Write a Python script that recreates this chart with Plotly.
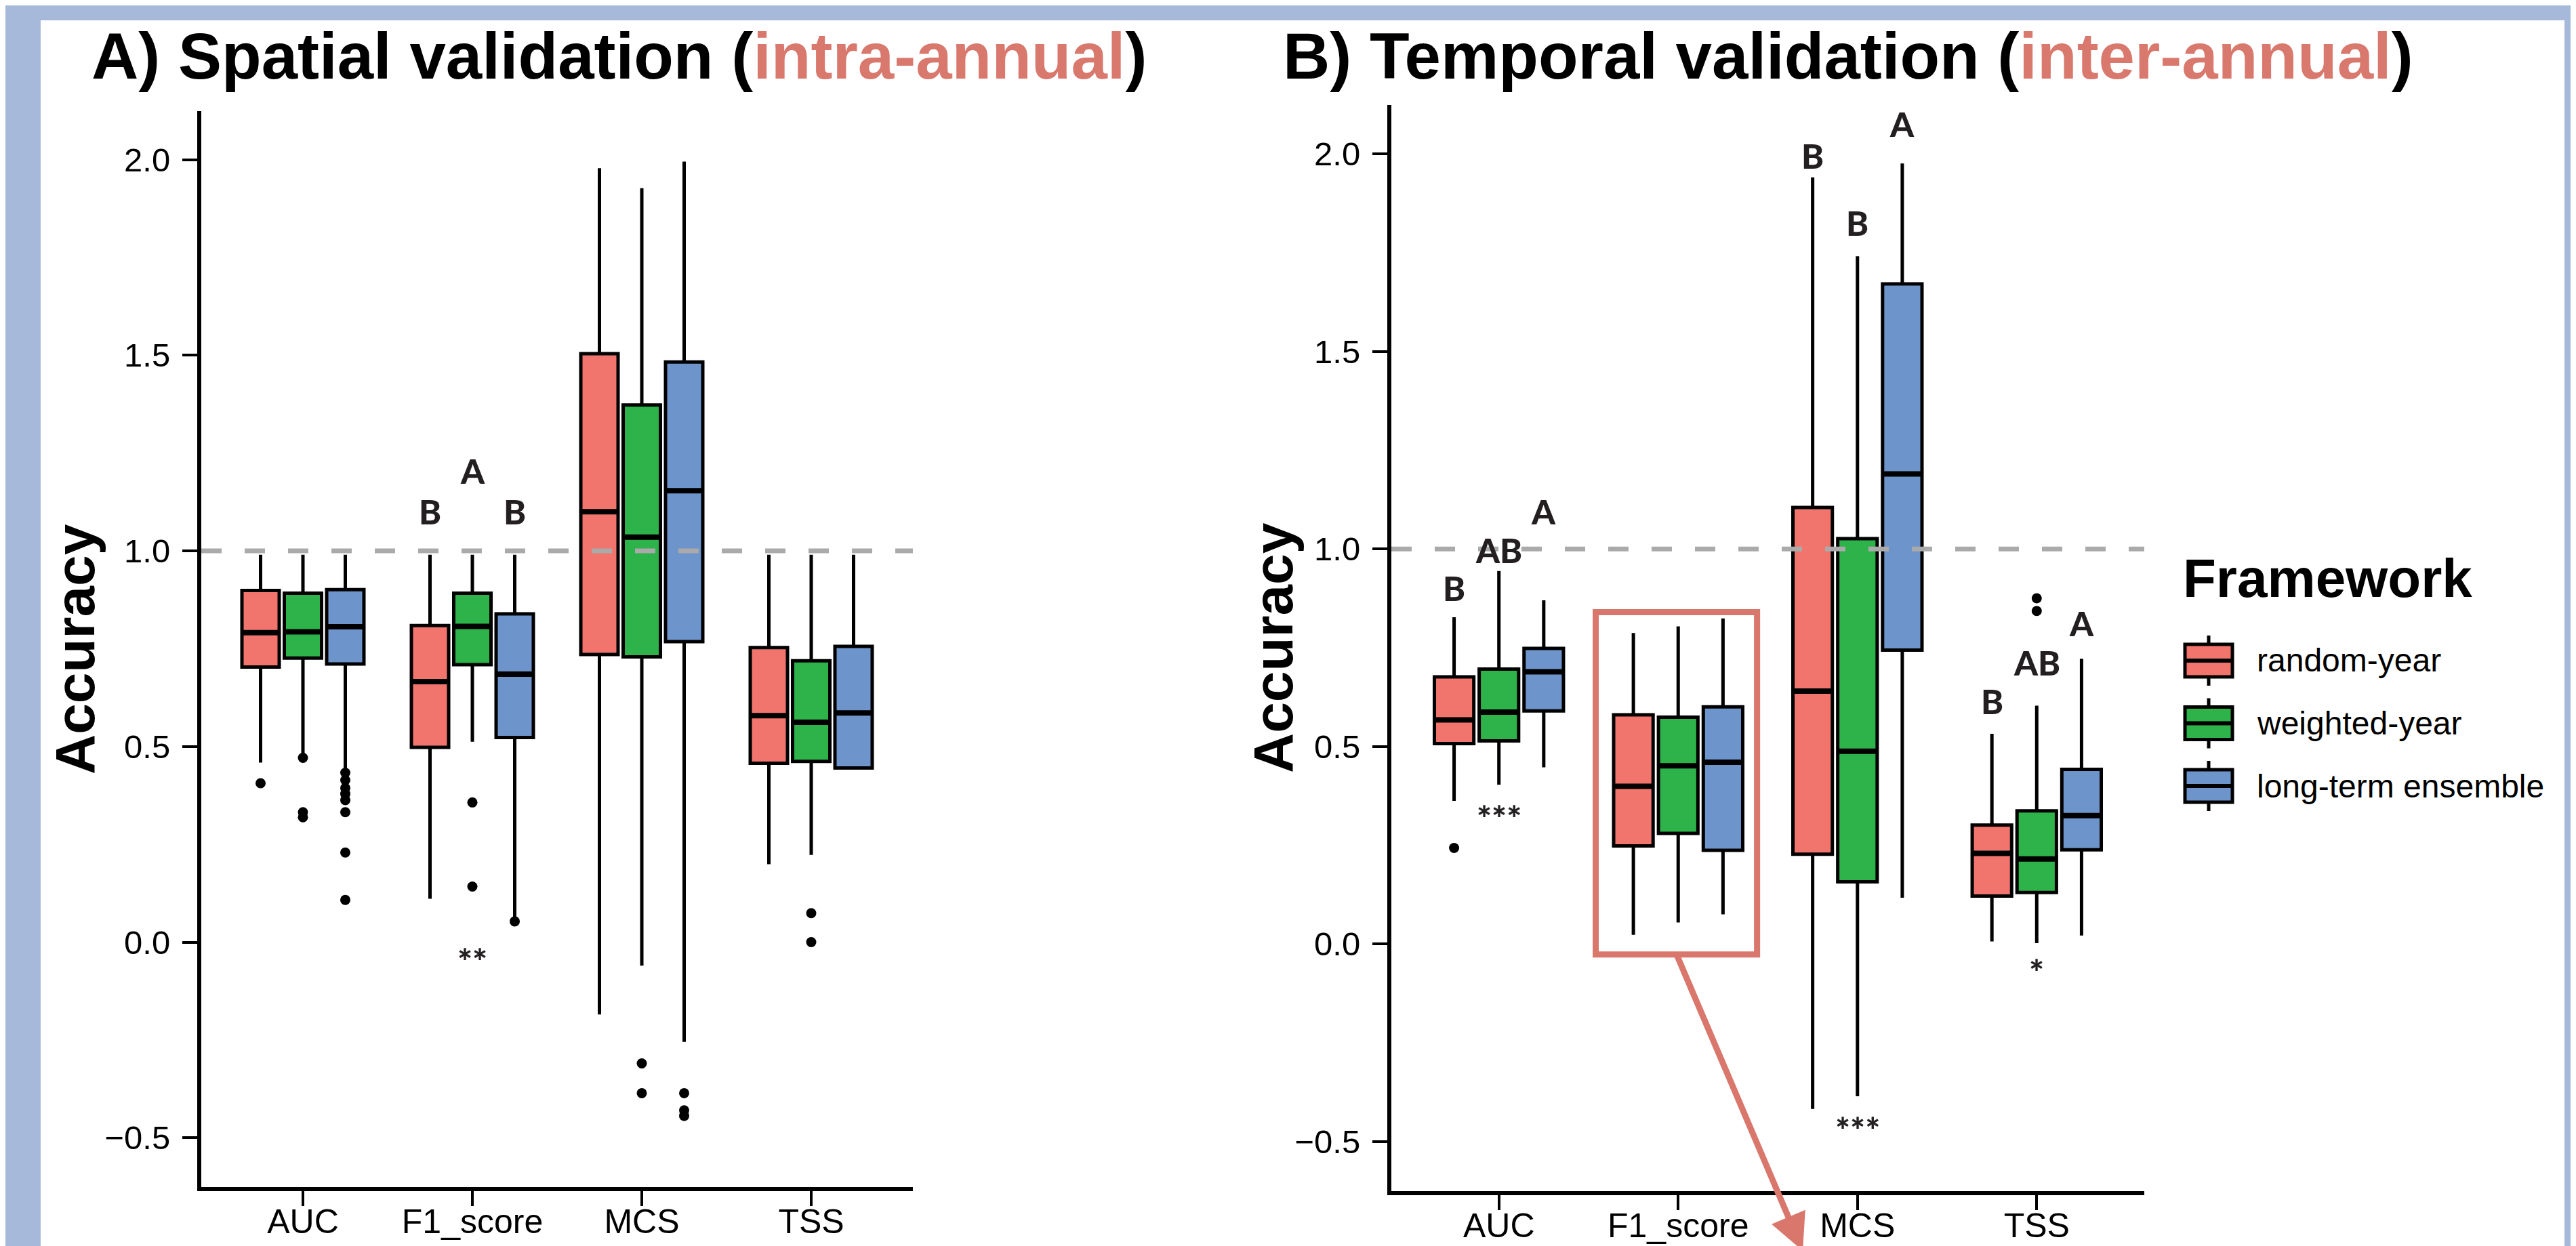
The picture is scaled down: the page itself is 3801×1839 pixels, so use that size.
import plotly.graph_objects as go

W, H = 3801, 1839
FONT = "Liberation Sans, Arial, sans-serif"
LETTER_FONT = "Lato, Liberation Sans, sans-serif"

categories = ["AUC", "F1_score", "MCS", "TSS"]
frameworks = ["random-year", "weighted-year", "long-term ensemble"]
colors = ["#F2756D", "#2DB34A", "#6E94CC"]
y_ticks = [-0.5, 0.0, 0.5, 1.0, 1.5, 2.0]

# ---- Panel A: spatial validation (rows: random-year, weighted-year, long-term ensemble)
spatial_q1 = [[0.703, 0.498, 0.735, 0.457],
              [0.726, 0.709, 0.729, 0.462],
              [0.711, 0.523, 0.768, 0.445]]
spatial_median = [[0.791, 0.666, 1.100, 0.579],
                  [0.793, 0.807, 1.035, 0.562],
                  [0.806, 0.685, 1.154, 0.586]]
spatial_q3 = [[0.899, 0.809, 1.504, 0.753],
              [0.892, 0.892, 1.373, 0.719],
              [0.901, 0.839, 1.483, 0.756]]
spatial_lower = [[0.459, 0.111, -0.185, 0.199],
                 [0.480, 0.512, -0.060, 0.223],
                 [0.440, 0.060, -0.255, 0.445]]
spatial_upper = [[0.990, 0.990, 1.978, 0.990],
                 [0.990, 0.990, 1.927, 0.990],
                 [0.990, 0.990, 1.995, 0.990]]
spatial_outliers = [[[0.406], [], [], []],
                    [[0.471, 0.332, 0.319], [0.357, 0.142], [-0.310, -0.386], [0.074, 0.0]],
                    [[0.433, 0.414, 0.394, 0.379, 0.363, 0.332, 0.229, 0.108], [0.053],
                     [-0.386, -0.430, -0.444], []]]
spatial_letters = [["", "B", "", ""], ["", "A", "", ""], ["", "B", "", ""]]
spatial_letter_y = [[None, 1.10, None, None], [None, 1.205, None, None], [None, 1.10, None, None]]
spatial_stars = ["", "**", "", ""]
spatial_star_y = [None, -0.03, None, None]

# ---- Panel B: temporal validation
temporal_q1 = [[0.507, 0.248, 0.227, 0.121],
               [0.514, 0.280, 0.157, 0.130],
               [0.590, 0.237, 0.744, 0.238]]
temporal_median = [[0.567, 0.399, 0.640, 0.229],
                   [0.587, 0.451, 0.488, 0.215],
                   [0.689, 0.460, 1.190, 0.325]]
temporal_q3 = [[0.676, 0.580, 1.105, 0.301],
               [0.696, 0.574, 1.026, 0.337],
               [0.748, 0.600, 1.671, 0.442]]
temporal_lower = [[0.362, 0.023, -0.418, 0.006],
                  [0.403, 0.054, -0.386, 0.002],
                  [0.447, 0.075, 0.117, 0.021]]
temporal_upper = [[0.827, 0.787, 1.941, 0.532],
                  [0.944, 0.804, 1.741, 0.603],
                  [0.870, 0.824, 1.976, 0.722]]
temporal_outliers = [[[0.243], [], [], []],
                     [[], [], [], [0.875, 0.843]],
                     [[], [], [], []]]
temporal_letters = [["B", "", "B", "B"], ["AB", "", "B", "AB"], ["A", "", "A", "A"]]
temporal_letter_y = [[0.90, None, 1.995, 0.614], [0.997, None, 1.826, 0.712], [1.094, None, 2.076, 0.811]]
temporal_stars = ["***", "", "***", "*"]
temporal_star_y = [0.337, None, -0.453, -0.053]

DODGE = 0.25
BOXW = 0.22


def pos(c, k):
    return c + (k - 1) * DODGE


def px_x(p):
    return p / W


def px_y(p):
    return 1 - p / H


fig = go.Figure()
annotations = []
shapes = []

panels = [
    ("x", "y", spatial_q1, spatial_median, spatial_q3, spatial_lower, spatial_upper,
     spatial_outliers, spatial_letters, spatial_letter_y, spatial_stars, spatial_star_y),
    ("x2", "y2", temporal_q1, temporal_median, temporal_q3, temporal_lower, temporal_upper,
     temporal_outliers, temporal_letters, temporal_letter_y, temporal_stars, temporal_star_y),
]

for (xa, ya, q1, med, q3, lo, hi, outl, letters, letter_y, stars, star_y) in panels:
    for k, fw in enumerate(frameworks):
        xs = [pos(c, k) for c in range(len(categories))]
        fig.add_trace(go.Box(
            x=xs, q1=q1[k], median=med[k], q3=q3[k],
            lowerfence=lo[k], upperfence=hi[k],
            width=BOXW, whiskerwidth=0, boxpoints=False,
            fillcolor=colors[k], line=dict(color="black", width=5),
            name=fw, showlegend=False, xaxis=xa, yaxis=ya, hoverinfo="skip"))
        # thicker median bars
        mx, my = [], []
        for c in range(len(categories)):
            mx += [xs[c] - BOXW / 2, xs[c] + BOXW / 2, None]
            my += [med[k][c], med[k][c], None]
        fig.add_trace(go.Scatter(x=mx, y=my, mode="lines", line=dict(color="black", width=8),
                                 showlegend=False, xaxis=xa, yaxis=ya, hoverinfo="skip"))
        # outliers
        ox, oy = [], []
        for c in range(len(categories)):
            for v in outl[k][c]:
                ox.append(xs[c])
                oy.append(v)
        if ox:
            fig.add_trace(go.Scatter(x=ox, y=oy, mode="markers",
                                     marker=dict(color="black", size=15),
                                     showlegend=False, xaxis=xa, yaxis=ya, hoverinfo="skip"))
        # significance letters
        for c in range(len(categories)):
            if letters[k][c]:
                annotations.append(dict(
                    x=xs[c], y=letter_y[k][c], xref=xa, yref=ya, showarrow=False,
                    text=letters[k][c], xanchor="center", yanchor="middle",
                    font=dict(family=LETTER_FONT, size=50, color="#231F20", weight=900)))
    for c in range(len(categories)):
        if stars[c]:
            annotations.append(dict(
                x=pos(c, 1), y=star_y[c], xref=xa, yref=ya, showarrow=False,
                text=stars[c], xanchor="center", yanchor="middle", yshift=-10,
                font=dict(family=LETTER_FONT, size=52, color="#231F20", weight=900)))
    # reference line at 1.0
    shapes.append(dict(type="line", xref=xa + " domain", yref=ya, x0=0, x1=1, y0=1, y1=1,
                       line=dict(color="#AAAAAA", width=7, dash="30px,34px"), layer="above"))


def xaxis(domain, anchor):
    return dict(domain=domain, anchor=anchor, range=[-0.6, 3.6],
                tickmode="array", tickvals=list(range(len(categories))), ticktext=categories,
                showline=True, linecolor="black", linewidth=6,
                ticks="outside", ticklen=22, tickwidth=4, tickcolor="black",
                ticklabelstandoff=-20,
                tickfont=dict(family=FONT, size=50, color="black"),
                showgrid=False, zeroline=False, fixedrange=True)


def yaxis(domain, anchor):
    return dict(domain=domain, anchor=anchor, range=[-0.626, 2.124],
                tickmode="array", tickvals=y_ticks, tickformat=".1f",
                showline=True, linecolor="black", linewidth=6,
                ticks="outside", ticklen=22, tickwidth=4, tickcolor="black",
                ticklabelstandoff=8,
                tickfont=dict(family=FONT, size=49, color="black"),
                showgrid=False, zeroline=False, fixedrange=True)


# white card over the blue frame
shapes.insert(0, dict(type="rect", xref="paper", yref="paper", x0=px_x(52), x1=px_x(3776),
                      y0=0, y1=px_y(22), fillcolor="white", line=dict(width=0), layer="below"))

# callout box around F1_score in panel B
shapes.append(dict(type="rect", xref="x2", yref="y2", x0=1 - 0.46, x1=1 + 0.44,
                   y0=-0.027, y1=0.84, line=dict(color="#D9776C", width=9), layer="above"))
annotations.append(dict(xref="paper", yref="paper", x=px_x(2652), y=px_y(1900),
                        axref="pixel", ayref="pixel", ax=-186, ay=-499, text="",
                        showarrow=True, arrowhead=2, arrowsize=1.2, arrowwidth=9,
                        arrowcolor="#D9776C", standoff=0, startstandoff=0))

# titles
annotations.append(dict(xref="paper", yref="paper", x=px_x(125), y=px_y(75),
                        xanchor="left", yanchor="middle", showarrow=False,
                        text="<b>A) Spatial validation (<span style='color:#D9786D'>intra-annual</span>)</b>",
                        font=dict(family=FONT, size=96, color="black")))
annotations.append(dict(xref="paper", yref="paper", x=px_x(1883), y=px_y(75),
                        xanchor="left", yanchor="middle", showarrow=False,
                        text="<b>B) Temporal validation (<span style='color:#D9786D'>inter-annual</span>)</b>",
                        font=dict(family=FONT, size=96, color="black")))
# y-axis titles
for xc, yc in [(102, 950), (1870, 948)]:
    annotations.append(dict(xref="paper", yref="paper", x=px_x(xc), y=px_y(yc),
                            xanchor="center", yanchor="middle", showarrow=False, textangle=-90,
                            text="<b>Accuracy</b>", font=dict(family=FONT, size=82, color="black")))

# legend (drawn manually)
annotations.append(dict(xref="paper", yref="paper", x=px_x(3211), y=px_y(845),
                        xanchor="left", yanchor="middle", showarrow=False,
                        text="<b>Framework</b>", font=dict(family=FONT, size=80, color="black")))
for k, fw in enumerate(frameworks):
    cy = 967 + k * 92.5
    shapes.append(dict(type="line", xref="paper", yref="paper", x0=px_x(3251), x1=px_x(3251),
                       y0=px_y(cy - 37), y1=px_y(cy + 37), line=dict(color="black", width=5)))
    shapes.append(dict(type="rect", xref="paper", yref="paper", x0=px_x(3216), x1=px_x(3286),
                       y0=px_y(cy - 24), y1=px_y(cy + 24), fillcolor=colors[k],
                       line=dict(color="black", width=5)))
    shapes.append(dict(type="line", xref="paper", yref="paper", x0=px_x(3216), x1=px_x(3286),
                       y0=px_y(cy), y1=px_y(cy), line=dict(color="black", width=6)))
    annotations.append(dict(xref="paper", yref="paper", x=px_x(3320), y=px_y(cy),
                            xanchor="left", yanchor="middle", showarrow=False, text=fw,
                            font=dict(family=FONT, size=48, color="black")))

fig.update_layout(
    width=W, height=H, autosize=False,
    margin=dict(l=0, r=0, t=0, b=0),
    paper_bgcolor="#A6B9DA", plot_bgcolor="rgba(0,0,0,0)",
    showlegend=False, hovermode=False,
    xaxis=xaxis([px_x(289), px_x(1339)], "y"),
    yaxis=yaxis([px_y(1744), px_y(156)], "x"),
    xaxis2=xaxis([px_x(2045), px_x(3156)], "y2"),
    yaxis2=yaxis([px_y(1750), px_y(147)], "x2"),
    shapes=shapes, annotations=annotations,
)

fig.write_html("out.html")
